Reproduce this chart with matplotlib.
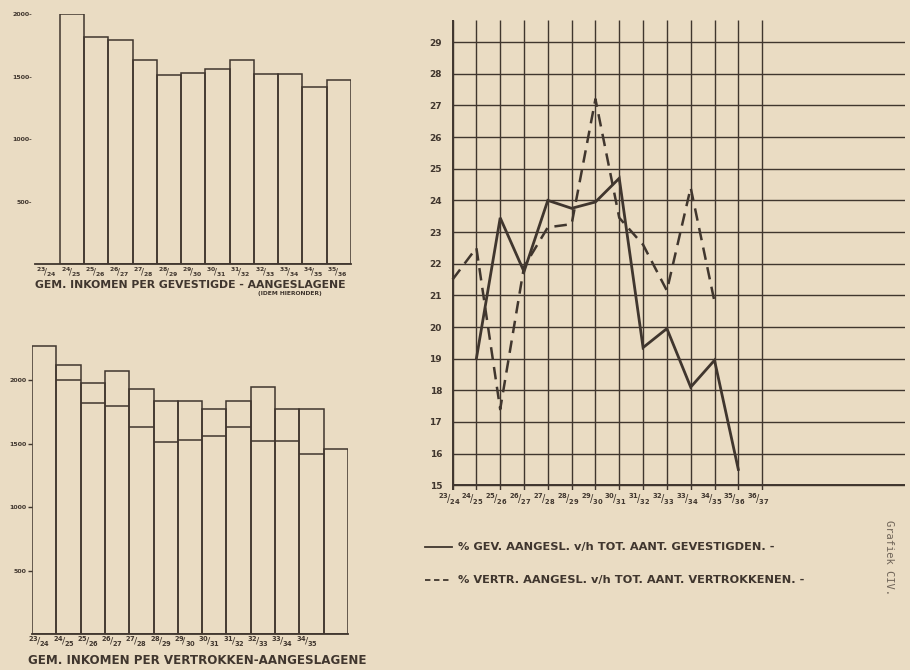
import matplotlib
matplotlib.use("Agg")
import matplotlib.pyplot as plt
from matplotlib.lines import Line2D
import numpy as np

# ---------------- data ----------------
years = ['23/24', '24/25', '25/26', '26/27', '27/28', '28/29', '29/30',
         '30/31', '31/32', '32/33', '33/34', '34/35', '35/36', '36/37']

# average income per assessed settler (24/25 .. 35/36)
gev_income = [2000, 1816, 1792, 1632, 1512, 1528, 1560, 1632, 1520, 1520, 1416, 1476]
# average income per assessed departed person (23/24 .. 35/36)
vert_income = [2269, 2119, 1976, 2071, 1929, 1834, 1834, 1771, 1834, 1945, 1771, 1771, 1455]

# % assessed of total settlers (24/25 .. 35/36)
gev_pct = [19.0, 23.45, 21.75, 24.0, 23.75, 23.95, 24.7, 19.35, 19.95, 18.1, 18.95, 15.5]
# % assessed of total departed (23/24 .. 34/35)
vert_pct = [21.5, 22.5, 17.4, 21.9, 23.15, 23.25, 27.2, 23.45, 22.6, 21.15, 24.4, 20.8]

income_ticks = [500, 1000, 1500, 2000]
pct_ticks = list(range(15, 30))

# ---------------- style ----------------
BG = '#eadcc3'
LC = '#40362e'
FONT = 'DejaVu Sans'

W, H = 910, 670
fig = plt.figure(figsize=(W / 100, H / 100), dpi=100, facecolor=BG)


def rect(l, t, r, b):
    return [l / W, 1 - b / H, (r - l) / W, (b - t) / H]


def frac(s):
    a, b = s.split('/')
    return r'$^{\mathbf{%s}}\!/_{\mathbf{%s}}$' % (a, b)


# ---------------- top bar chart ----------------
ax1 = fig.add_axes(rect(35, 14, 351, 264))
ax1.set_facecolor(BG)
idx_g = np.arange(1, len(gev_income) + 1)
ax1.bar(idx_g, gev_income, width=1.0, fill=False, edgecolor=LC, linewidth=1.1)
ax1.set_xlim(-0.53, 12.5)
ax1.set_ylim(0, 2000)
for s in ['top', 'right', 'left']:
    ax1.spines[s].set_visible(False)
ax1.spines['bottom'].set_color(LC)
ax1.spines['bottom'].set_linewidth(1.3)
ax1.set_yticks(income_ticks)
ax1.set_yticklabels([f'{v}-' for v in income_ticks], fontsize=4.5,
                    fontweight='bold', color=LC, family=FONT)
ax1.tick_params(axis='y', length=0, pad=2)
ax1.set_xticks(np.arange(0, 13) - 0.05)
ax1.set_xticklabels([frac(y) for y in years[:13]], fontsize=6.3, color=LC)
ax1.tick_params(axis='x', length=0, pad=0.5)

fig.text(35 / W, 1 - 285 / H, 'GEM. INKOMEN PER GEVESTIGDE - AANGESLAGENE',
         fontsize=7.8, fontweight='bold', color=LC, family=FONT, va='center', ha='left')
fig.text(290 / W, 1 - 294 / H, '(IDEM HIERONDER)', fontsize=4.3,
         fontweight='bold', color=LC, family=FONT, va='center', ha='center')

# ---------------- bottom bar chart ----------------
ax2 = fig.add_axes(rect(32, 342, 348, 634))
ax2.set_facecolor(BG)
idx_v = np.arange(len(vert_income))
ax2.bar(idx_v, vert_income, width=1.0, fill=False, edgecolor=LC, linewidth=1.1)
# overlay of settler incomes (IDEM HIERONDER)
for i, g in zip(idx_g, gev_income):
    if g < vert_income[i]:
        ax2.hlines(g, i - 0.5, i + 0.5, color=LC, linewidth=1.1)
ax2.set_xlim(-0.5, 12.5)
ax2.set_ylim(0, 2300)
for s in ['top', 'right', 'left']:
    ax2.spines[s].set_visible(False)
ax2.spines['bottom'].set_color(LC)
ax2.spines['bottom'].set_linewidth(1.3)
ax2.set_yticks(income_ticks)
ax2.set_yticklabels([str(v) for v in income_ticks], fontsize=4.5,
                    fontweight='bold', color=LC, family=FONT)
ax2.tick_params(axis='y', length=3, width=1, color=LC, pad=1)
ax2.set_xticks(np.arange(0, 12) - 0.2)
ax2.set_xticklabels([frac(y) for y in years[:12]], fontsize=6.8, color=LC)
ax2.tick_params(axis='x', length=0, pad=1)

fig.text(28 / W, 1 - 660 / H, 'GEM. INKOMEN PER VERTROKKEN-AANGESLAGENE',
         fontsize=8.6, fontweight='bold', color=LC, family=FONT, va='center', ha='left')

# ---------------- right line chart ----------------
ax3 = fig.add_axes(rect(449, 20, 905, 490))
ax3.set_facecolor(BG)
ax3.set_xlim(0, 19)
ax3.set_ylim(14.85, 29.7)
for s in ax3.spines.values():
    s.set_visible(False)
xi = np.arange(len(years))
ax3.hlines(pct_ticks, 0, 19, color=LC, linewidth=1.0)
ax3.vlines(xi, 14.85, 29.7, color=LC, linewidth=1.0)
ax3.hlines(15, 0, 19, color=LC, linewidth=1.4)
ax3.vlines(0, 14.85, 29.7, color=LC, linewidth=1.4)

ax3.plot(xi[1:1 + len(gev_pct)], gev_pct, color=LC, linewidth=2.0,
         solid_joinstyle='miter')
ax3.plot(xi[:len(vert_pct)], vert_pct, color=LC, linewidth=1.8,
         linestyle=(0, (5, 3)))

ax3.set_yticks(pct_ticks)
ax3.set_yticklabels([str(v) for v in pct_ticks], fontsize=6.5,
                    fontweight='bold', color=LC, family=FONT)
ax3.tick_params(axis='y', length=0, pad=5)
ax3.set_xticks(xi - 0.15)
ax3.set_xticklabels([frac(y) for y in years], fontsize=7.0, color=LC)
ax3.tick_params(axis='x', length=0, pad=1)

# legend
for yy, ls, lab in [(547, '-', '% GEV. AANGESL. v/h TOT. AANT. GEVESTIGDEN. -'),
                    (580, (0, (3, 2)), '% VERTR. AANGESL. v/h TOT. AANT. VERTROKKENEN. -')]:
    fig.add_artist(Line2D([425 / W, 452 / W], [1 - yy / H, 1 - yy / H],
                          color=LC, linewidth=1.3, linestyle=ls))
    fig.text(458 / W, 1 - yy / H, lab, fontsize=8.2, fontweight='bold',
             color=LC, family=FONT, va='center', ha='left')

fig.text(889 / W, 1 - 558 / H, 'Grafiek CIV.', rotation=-90, fontsize=7.5,
         family='DejaVu Sans Mono', color='#6f6458', ha='center', va='center')

fig.savefig('out.png', dpi=100, facecolor=BG)
